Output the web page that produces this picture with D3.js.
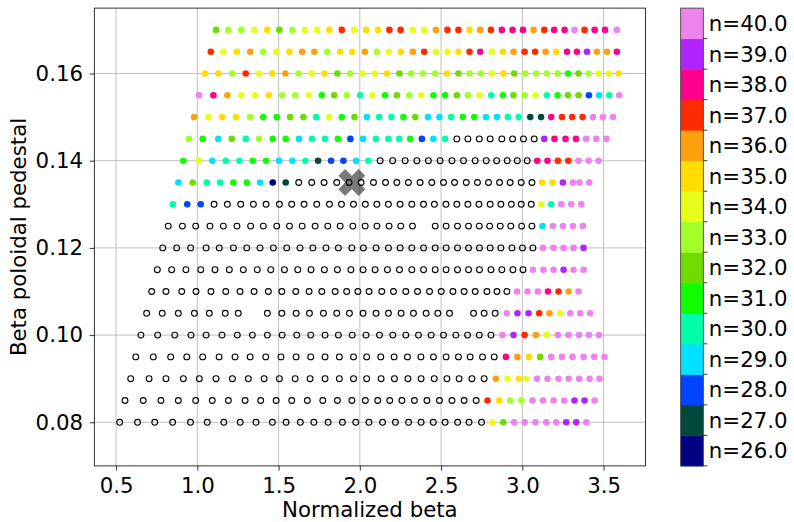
<!DOCTYPE html>
<html>
<head>
<meta charset="utf-8">
<script src="https://cdn.jsdelivr.net/npm/d3@7"></script>
<style>
  html, body { margin: 0; padding: 0; background: #fff; }
  svg { display: block; font-family: "DejaVu Sans", sans-serif; }
</style>
</head>
<body>
<div id="chart"></div>
<script>
// axis ticks
const xTicks = [0.5, 1.0, 1.5, 2.0, 2.5, 3.0, 3.5];
const yTicks = [0.08, 0.10, 0.12, 0.14, 0.16];
const xDomain = [0.366, 3.758];
const yDomain = [0.07, 0.175];

// colour levels of the most unstable mode number
const nLevels = [26, 27, 28, 29, 30, 31, 32, 33, 34, 35, 36, 37, 38, 39, 40];
const nColors = ["#000080", "#00493a", "#0044ff", "#00e0ff", "#00ffaa", "#10ff00", "#6edc00",
  "#a2ff2a", "#e6ff1a", "#ffdd00", "#ffa00f", "#ff2a00", "#ff008c", "#b124fe", "#ee82ee"];

// reference case marker
const refCase = [1.951, 0.135];

// one pair per row of the scan: normalized beta, mode number (0 = stable, open circle)
const bn170 = [1.115,1.191,1.271,1.351,1.431,1.505,1.585,1.661,1.737,1.813,1.889,1.965,2.039,2.111,2.182,2.251,2.326,2.396,2.468,2.539,2.607,2.675,2.741,2.807,2.874,2.940,3.004,3.069,3.135,3.196,3.260,3.321,3.383,3.445,3.509,3.582];
const n170 = [32,33,33,34,35,32,33,34,34,35, 37,34,35,35,37,37,34,34,36,37, 37,35,36,37,38,38,38,36,37,38, 38,40,37,38,38,40];

const bn165 = [1.083,1.160,1.243,1.325,1.406,1.485,1.567,1.645,1.720,1.800,1.879,1.953,2.031,2.105,2.179,2.252,2.326,2.396,2.468,2.539,2.607,2.675,2.741,2.813,2.881,2.946,3.014,3.079,3.143,3.209,3.275,3.336,3.398,3.459,3.521,3.582];
const n165 = [37,34,35,36,33,34,35,36,36,33, 35,35,36,33,34,35,36,37,34,34, 35,37,38,34,35,36,37,37,36,35, 38,38,39,36,36,38];

const bn160 = [1.047,1.129,1.214,1.298,1.380,1.462,1.542,1.624,1.704,1.782,1.862,1.940,2.016,2.092,2.166,2.244,2.316,2.388,2.464,2.536,2.607,2.675,2.745,2.813,2.884,2.950,3.018,3.086,3.151,3.217,3.281,3.346,3.408,3.469,3.531,3.592];
const n160 = [35,35,33,37,34,35,36,33,34,35, 32,33,34,34,35,32,33,33,33,35, 32,33,33,34,35,32,33,33,33,33, 31,32,33,34,34,35];

const bn155 = [1.010,1.099,1.185,1.271,1.355,1.440,1.523,1.603,1.686,1.766,1.842,1.920,2.002,2.078,2.156,2.228,2.304,2.377,2.453,2.525,2.597,2.665,2.736,2.809,2.881,2.946,3.014,3.081,3.151,3.217,3.281,3.346,3.410,3.473,3.535,3.597];
const n155 = [40,38,36,34,34,35,33,33,34,31, 32,33,30,34,31,32,33,34,31,31, 32,33,34,30,31,32,33,34,30,31, 32,32,28,29,30,40];

const bn150 = [0.980,1.068,1.154,1.238,1.325,1.406,1.489,1.571,1.653,1.731,1.811,1.889,1.967,2.043,2.119,2.195,2.268,2.341,2.419,2.490,2.562,2.634,2.704,2.776,2.844,2.911,2.977,3.049,3.115,3.178,3.244,3.307,3.371,3.435,3.496,3.558];
const n150 = [36,34,35,35,33,31,31,32,32,30, 34,31,32,29,30,30,31,32,29,29, 30,31,31,29,29,30,30,27,27,38, 37,37,37,40,40,40];

const bn145 = [0.949,1.033,1.129,1.212,1.298,1.380,1.464,1.544,1.626,1.706,1.786,1.865,1.942,2.020,2.099,2.176,2.242,2.310,2.382,2.453,2.525,2.597,2.665,2.735,2.802,2.874,2.940,3.007,3.073,3.135,3.198,3.266,3.330,3.393,3.455,3.517];
const n145 = [33,31,29,32,30,33,31,31,29,30, 30,31,28,29,30,30,30,31,28,29, 30,0,0,0,0,0,0,0,0,39, 38,38,38,40,40,40];

const bn140 = [0.914,1.010,1.092,1.175,1.259,1.341,1.423,1.503,1.585,1.665,1.743,1.823,1.899,1.977,2.053,2.125,2.202,2.279,2.351,2.422,2.494,2.567,2.638,2.710,2.778,2.842,2.907,2.969,3.030,3.092,3.155,3.219,3.283,3.346,3.408,3.469];
const n140 = [31,34,29,30,30,31,31,29,29,30, 27,28,28,29,30,0,0,0,0,0, 0,0,0,0,0,0,0,0,0,38, 38,37,37,40,40,40];

const bn135 = [0.883,0.972,1.058,1.140,1.222,1.304,1.386,1.464,1.544,1.624,1.704,1.780,1.858,1.934,2.008,2.084,2.158,2.228,2.299,2.371,2.443,2.515,2.583,2.655,2.724,2.792,2.860,2.925,2.993,3.059,3.121,3.186,3.250,3.312,3.352,3.412];
const n135 = [29,32,30,30,31,31,29,26,27,0, 0,0,0,0,0,0,0,0,0,0, 0,0,0,0,0,0,0,0,0,0, 35,35,39,40,40,40];

const bn130 = [0.849,0.938,1.021,1.103,1.185,1.267,1.345,1.423,1.505,1.581,1.657,1.735,1.813,1.887,1.961,2.034,2.105,2.176,2.248,2.320,2.392,2.459,2.530,2.597,2.665,2.733,2.802,2.868,2.932,2.993,3.055,3.116,3.178,3.240,3.301,3.363];
const n130 = [30,28,28,0,0,0,0,0,0,0, 0,0,0,0,0,0,0,0,0,0, 0,0,0,0,0,0,0,0,0,0, 0,34,30,40,40,40];

const bn125 = [0.821,0.908,0.990,1.078,1.160,1.244,1.328,1.406,1.489,1.567,1.645,1.725,1.803,1.879,1.957,2.033,2.105,2.180,2.252,2.324,2.464,2.531,2.601,2.669,2.735,2.799,2.864,2.929,2.996,3.059,3.124,3.188,3.250,3.312,3.373];
const n125 = [0,0,0,0,0,0,0,0,0,0, 0,0,0,0,0,0,0,0,0,0, 0,0,0,0,0,0,0,0,0,0, 29,40,40,40,40];

const bn120 = [0.787,0.873,0.959,1.054,1.135,1.222,1.304,1.386,1.468,1.550,1.632,1.711,1.792,1.868,1.951,2.022,2.100,2.176,2.248,2.320,2.392,2.464,2.531,2.601,2.669,2.736,2.802,2.868,2.936,3.001,3.065,3.127,3.192,3.254,3.315,3.377];
const n120 = [0,0,0,0,0,0,0,0,0,0, 0,0,0,0,0,0,0,0,0,0, 0,0,0,0,0,0,0,0,0,0, 0,40,40,40,40,39];

const bn115 = [0.754,0.842,0.930,1.021,1.109,1.197,1.283,1.369,1.452,1.536,1.618,1.700,1.782,1.862,1.945,2.020,2.094,2.170,2.244,2.320,2.392,2.464,2.531,2.601,2.669,2.736,2.807,2.874,2.942,3.004,3.065,3.130,3.192,3.254,3.315,3.377];
const n115 = [0,0,0,0,0,0,0,0,0,0, 0,0,0,0,0,0,0,0,0,0, 0,0,0,0,0,0,0,0,0,0, 40,40,40,39,40,40];

const bn110 = [0.719,0.807,0.904,0.992,1.084,1.175,1.263,1.349,1.437,1.520,1.606,1.688,1.766,1.848,1.919,1.988,2.057,2.135,2.207,2.283,2.355,2.429,2.501,2.573,2.642,2.710,2.782,2.844,2.905,2.967,3.032,3.096,3.158,3.223,3.285,3.346];
const n110 = [0,0,0,0,0,0,0,0,0,0, 0,0,0,0,0,0,0,0,0,0, 0,0,0,0,0,0,0,0,0,40, 40,40,38,37,36,40];

const bn105 = [0.688,0.784,0.883,0.982,1.074,1.172,1.252,1.431,1.520,1.608,1.690,1.776,1.858,1.936,2.020,2.100,2.176,2.254,2.330,2.408,2.480,2.552,2.700,2.765,2.833,2.905,2.970,3.038,3.104,3.167,3.233,3.295,3.357,3.418];
const n105 = [0,0,0,0,0,0,0,0,0,0, 0,0,0,0,0,0,0,0,0,0, 0,0,0,0,0,40,39,39,37,36, 34,40,40,40];

const bn100 = [0.653,0.756,0.861,0.961,1.054,1.152,1.246,1.339,1.431,1.522,1.612,1.698,1.786,1.868,1.953,2.038,2.121,2.203,2.283,2.361,2.439,2.515,2.591,2.663,2.735,2.807,2.878,2.946,3.014,3.084,3.151,3.219,3.285,3.349,3.410,3.472];
const n100 = [0,0,0,0,0,0,0,0,0,0, 0,0,0,0,0,0,0,0,0,0, 0,0,0,0,0,0,40,39,37,36, 34,40,40,40,40,40];

const bn095 = [0.621,0.729,0.836,0.935,1.033,1.134,1.232,1.325,1.421,1.515,1.608,1.698,1.786,1.874,1.961,2.042,2.129,2.211,2.293,2.376,2.453,2.531,2.607,2.679,2.755,2.827,2.899,2.970,3.041,3.110,3.178,3.244,3.309,3.377,3.443,3.506];
const n095 = [0,0,0,0,0,0,0,0,0,0, 0,0,0,0,0,0,0,0,0,0, 0,0,0,0,0,0,38,36,35,32, 40,40,40,40,40,40];

const bn090 = [0.590,0.703,0.807,0.914,1.012,1.115,1.216,1.314,1.411,1.505,1.602,1.694,1.786,1.874,1.961,2.042,2.131,2.213,2.296,2.377,2.458,2.536,2.611,2.690,2.765,2.837,2.909,2.979,3.022,3.090,3.155,3.223,3.285,3.350,3.414,3.475];
const n090 = [0,0,0,0,0,0,0,0,0,0, 0,0,0,0,0,0,0,0,0,0, 0,0,0,0,0,36,34,35,34,40, 40,40,40,40,40,40];

const bn085 = [0.555,0.667,0.776,0.883,0.990,1.092,1.191,1.294,1.390,1.485,1.581,1.677,1.772,1.862,1.951,2.034,2.110,2.184,2.259,2.336,2.413,2.490,2.567,2.642,2.716,2.786,2.858,2.925,2.993,3.063,3.127,3.192,3.258,3.321,3.383,3.445];
const n085 = [0,0,0,0,0,0,0,0,0,0, 0,0,0,0,0,0,0,0,0,0, 0,0,0,0,0,37,35,33,33,40, 40,40,40,39,39,40];

const bn080 = [0.522,0.632,0.738,0.848,0.958,1.061,1.163,1.264,1.361,1.462,1.546,1.634,1.717,1.805,1.893,1.975,2.056,2.140,2.219,2.300,2.377,2.452,2.525,2.602,2.672,2.749,2.815,2.883,2.949,3.015,3.081,3.147,3.209,3.270,3.332,3.394];
const n080 = [0,0,0,0,0,0,0,0,0,0, 0,0,0,0,0,0,0,0,0,0, 0,0,0,0,0,0,34,32,40,40, 40,40,40,39,39,40];

const scanRows = [
  [0.170, bn170, n170], [0.165, bn165, n165], [0.160, bn160, n160], [0.155, bn155, n155],
  [0.150, bn150, n150], [0.145, bn145, n145], [0.140, bn140, n140], [0.135, bn135, n135],
  [0.130, bn130, n130], [0.125, bn125, n125], [0.120, bn120, n120], [0.115, bn115, n115],
  [0.110, bn110, n110], [0.105, bn105, n105], [0.100, bn100, n100], [0.095, bn095, n095],
  [0.090, bn090, n090], [0.085, bn085, n085], [0.080, bn080, n080]
];

const points = scanRows.flatMap(([bp, bn, n]) => bn.map((b, i) => ({ bn: b, bp, n: n[i] })));

const width = 794;
const height = 522;
const plot = { left: 94.3, right: 645.5, top: 8.1, bottom: 465.9 };
const bar = { left: 680.7, width: 22.6 };
const fontSize = 21.3;

const svg = d3.select("#chart")
  .append("svg")
  .attr("width", width)
  .attr("height", height);

const x = d3.scaleLinear().domain(xDomain).range([plot.left, plot.right]);
const y = d3.scaleLinear().domain(yDomain).range([plot.bottom, plot.top]);
const color = d3.scaleOrdinal().domain(nLevels).range(nColors);

// grid
const grid = svg.append("g").attr("stroke", "#b0b0b0").attr("stroke-width", 0.8);
grid.selectAll("line.gx")
  .data(xTicks)
  .join("line")
  .attr("class", "gx")
  .attr("x1", (d) => x(d)).attr("x2", (d) => x(d))
  .attr("y1", plot.top).attr("y2", plot.bottom);
grid.selectAll("line.gy")
  .data(yTicks)
  .join("line")
  .attr("class", "gy")
  .attr("x1", plot.left).attr("x2", plot.right)
  .attr("y1", (d) => y(d)).attr("y2", (d) => y(d));

// axes
svg.append("g")
  .attr("transform", `translate(0,${plot.bottom})`)
  .call(d3.axisBottom(x).tickValues(xTicks).tickFormat(d3.format(".1f")).tickSize(4.7).tickPadding(7))
  .call((g) => g.select(".domain").remove())
  .call((g) => g.selectAll("line").attr("stroke", "#000").attr("stroke-width", 0.8))
  .call((g) => g.selectAll("text")
    .attr("fill", "#000")
    .style("font-size", `${fontSize}px`)
    .style("font-family", "DejaVu Sans"));

svg.append("g")
  .attr("transform", `translate(${plot.left},0)`)
  .call(d3.axisLeft(y).tickValues(yTicks).tickFormat(d3.format(".2f")).tickSize(4.7).tickPadding(6.6))
  .call((g) => g.select(".domain").remove())
  .call((g) => g.selectAll("line").attr("stroke", "#000").attr("stroke-width", 0.8))
  .call((g) => g.selectAll("text")
    .attr("fill", "#000")
    .style("font-size", `${fontSize}px`)
    .style("font-family", "DejaVu Sans"));

svg.append("text")
  .attr("x", (plot.left + plot.right) / 2)
  .attr("y", 517)
  .attr("text-anchor", "middle")
  .attr("font-size", fontSize)
  .text("Normalized beta");

svg.append("text")
  .attr("transform", `translate(26,${(plot.top + plot.bottom) / 2}) rotate(-90)`)
  .attr("text-anchor", "middle")
  .attr("font-size", fontSize)
  .text("Beta poloidal pedestal");

// points
const marks = svg.append("g");
marks.selectAll("circle.stable")
  .data(points.filter((d) => d.n === 0))
  .join("circle")
  .attr("class", "stable")
  .attr("cx", (d) => x(d.bn))
  .attr("cy", (d) => y(d.bp))
  .attr("r", 2.9)
  .attr("fill", "none")
  .attr("stroke", "#000")
  .attr("stroke-width", 1.1);

marks.selectAll("circle.unstable")
  .data(points.filter((d) => d.n > 0))
  .join("circle")
  .attr("class", "unstable")
  .attr("cx", (d) => x(d.bn))
  .attr("cy", (d) => y(d.bp))
  .attr("r", 3.3)
  .attr("fill", (d) => color(d.n));

// reference case, matplotlib-style filled X
const xShape = [[-1, -2], [0, -1], [1, -2], [2, -1], [1, 0], [2, 1],
  [1, 2], [0, 1], [-1, 2], [-2, 1], [-1, 0], [-2, -1]];
const xUnit = 6.75;
svg.append("path")
  .attr("transform", `translate(${x(refCase[0])},${y(refCase[1])})`)
  .attr("d", "M" + xShape.map((p) => `${p[0] * xUnit},${p[1] * xUnit}`).join("L") + "Z")
  .attr("fill", "#000")
  .attr("fill-opacity", 0.52);

// frame
svg.append("rect")
  .attr("x", plot.left)
  .attr("y", plot.top)
  .attr("width", plot.right - plot.left)
  .attr("height", plot.bottom - plot.top)
  .attr("fill", "none")
  .attr("stroke", "#000")
  .attr("stroke-width", 0.8);

// colour bar
const cb = d3.scaleBand()
  .domain(nLevels.slice().reverse())
  .range([plot.top, plot.bottom]);

const cbar = svg.append("g");
cbar.selectAll("rect.level")
  .data(nLevels)
  .join("rect")
  .attr("class", "level")
  .attr("x", bar.left)
  .attr("y", (d) => cb(d))
  .attr("width", bar.width)
  .attr("height", cb.bandwidth() + 0.5)
  .attr("fill", (d) => color(d));

cbar.append("rect")
  .attr("x", bar.left)
  .attr("y", plot.top)
  .attr("width", bar.width)
  .attr("height", plot.bottom - plot.top)
  .attr("fill", "none")
  .attr("stroke", "#333")
  .attr("stroke-width", 0.8);

cbar.selectAll("line.tick")
  .data(nLevels)
  .join("line")
  .attr("class", "tick")
  .attr("x1", bar.left + bar.width)
  .attr("x2", bar.left + bar.width + 4)
  .attr("y1", (d) => cb(d) + cb.bandwidth())
  .attr("y2", (d) => cb(d) + cb.bandwidth())
  .attr("stroke", "#000")
  .attr("stroke-width", 0.8);

cbar.selectAll("text.label")
  .data(nLevels)
  .join("text")
  .attr("class", "label")
  .attr("x", bar.left + bar.width + 5.5)
  .attr("y", (d) => cb(d) + cb.bandwidth() / 2)
  .attr("dy", "0.36em")
  .attr("font-size", fontSize)
  .text((d) => `n=${d.toFixed(1)}`);
</script>
</body>
</html>
